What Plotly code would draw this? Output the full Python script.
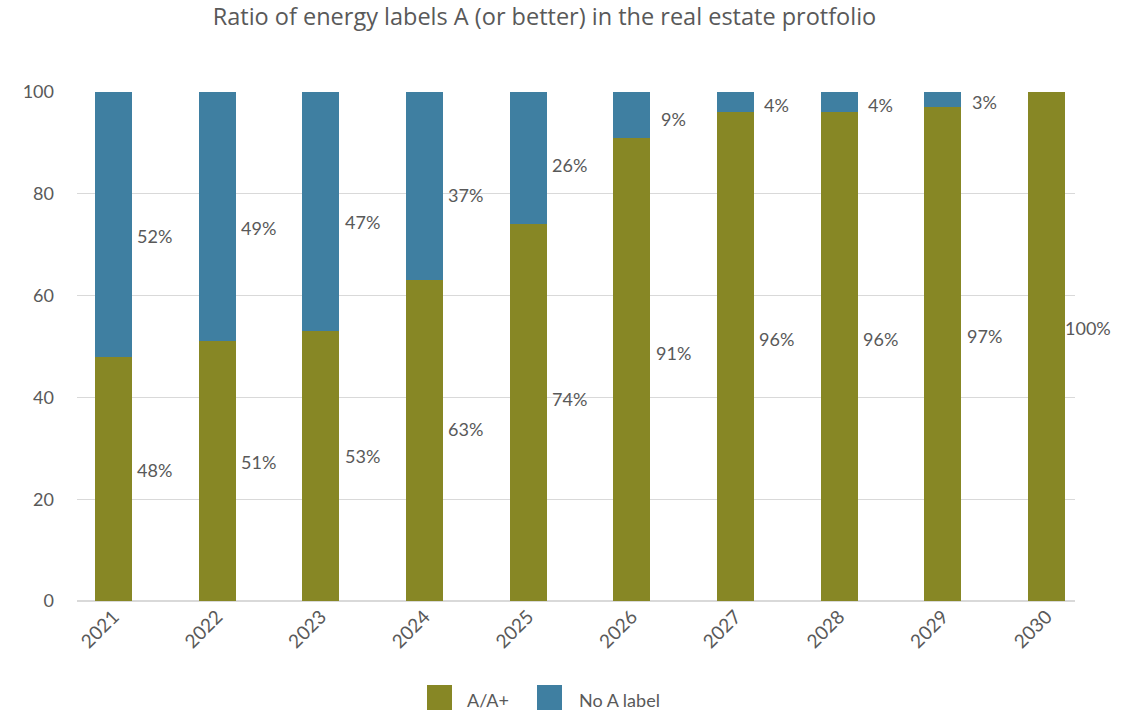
import plotly.graph_objects as go

# Share of the portfolio with energy label A or better, per year (percent)
years = ["2021", "2022", "2023", "2024", "2025", "2026", "2027", "2028", "2029", "2030"]
label_a = [48, 51, 53, 63, 74, 91, 96, 96, 97, 100]
no_label_a = [52, 49, 47, 37, 26, 9, 4, 4, 3, 0]
series_names = ["A/A+", "No A label"]
y_ticks = [0, 20, 40, 60, 80, 100]

OLIVE = "#878725"
BLUE = "#3F7FA1"
TEXT = "#595959"
GRID = "#d9d9d9"
FONT = "Lato"

W, H = 1138, 713
L, R, T, B = 77, 63, 92, 112
X_RANGE = [-0.352, 9.275]

fig = go.Figure()
fig.add_trace(go.Bar(x=years, y=label_a, name=series_names[0],
                     marker=dict(color=OLIVE, line=dict(width=0)), width=0.357))
fig.add_trace(go.Bar(x=years, y=no_label_a, name=series_names[1],
                     marker=dict(color=BLUE, line=dict(width=0)), width=0.357))

def cat_to_paper(pos):
    return (pos - X_RANGE[0]) / (X_RANGE[1] - X_RANGE[0])

# value labels beside each bar (x in paper units so the last one is not clipped)
annotations = []
for i, (a, n) in enumerate(zip(label_a, no_label_a)):
    ya = 0.536 * a
    annotations.append(dict(x=cat_to_paper(i + 0.4), y=ya, xref="paper", yref="y", text=f"{a}%",
                            showarrow=False, xanchor="center", yanchor="middle",
                            font=dict(family=FONT, size=18, color=TEXT)))
    if n > 0:
        annotations.append(dict(x=cat_to_paper(i + 0.4), y=ya + 46, xref="paper", yref="y",
                                text=f"{n}%", showarrow=False, xanchor="center",
                                yanchor="middle",
                                font=dict(family=FONT, size=18, color=TEXT)))

# legend drawn as large swatches below the axis
pw, ph = W - L - R, H - T - B
def px_to_paper(px, py):
    return (px - L) / pw, (H - B - py) / ph

shapes = []
for (sx, tx), color, name in zip([(427, 465), (537, 577)], [OLIVE, BLUE], series_names):
    x0, y0 = px_to_paper(sx, 710)
    x1, y1 = px_to_paper(sx + 25, 685)
    shapes.append(dict(type="rect", xref="paper", yref="paper", x0=x0, x1=x1, y0=y0, y1=y1,
                       fillcolor=color, line=dict(width=0)))
    lx, ly = px_to_paper(tx, 700)
    annotations.append(dict(x=lx, y=ly, xref="paper", yref="paper", text=name,
                            showarrow=False, xanchor="left", yanchor="middle",
                            font=dict(family=FONT, size=18, color=TEXT)))

fig.update_layout(
    barmode="stack",
    width=W, height=H,
    margin=dict(l=L, r=R, t=T, b=B, pad=0),
    paper_bgcolor="white", plot_bgcolor="white",
    showlegend=False,
    title=dict(text="Ratio of energy labels A (or better) in the real estate protfolio",
               xref="container", yref="container", x=544.5 / W, y=1 - 17 / H,
               xanchor="center", yanchor="middle",
               font=dict(family="Open Sans", size=23.5, color=TEXT)),
    xaxis=dict(type="category", range=X_RANGE, tickangle=-45,
               tickfont=dict(family=FONT, size=19, color=TEXT),
               showgrid=False, showline=False, ticks=""),
    yaxis=dict(range=[0, 100], tickvals=y_ticks, showgrid=True, gridcolor=GRID, gridwidth=1,
               zeroline=True, zerolinecolor=GRID, zerolinewidth=2,
               tickfont=dict(family=FONT, size=18, color=TEXT), ticklabelstandoff=22,
               showline=False, ticks=""),
    annotations=annotations,
    shapes=shapes,
)

fig.write_html("out.html")
